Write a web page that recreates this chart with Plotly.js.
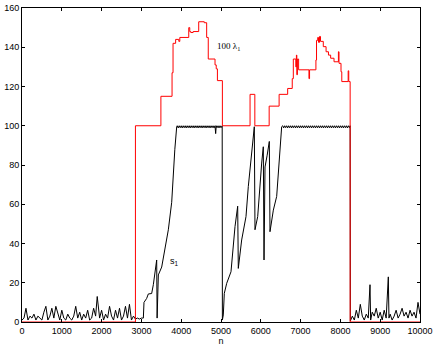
<!DOCTYPE html>
<html>
<head>
<meta charset="utf-8">
<script src="https://cdn.plot.ly/plotly-3.0.1.min.js"></script>
<style>
  html, body { margin: 0; padding: 0; background: #fff; }
  #chart { width: 436px; height: 346px; }
</style>
</head>
<body>
<div id="chart"></div>
<script>
// 100 lambda_1 (step curve)
const lamN = [0, 2850, 3490, 3770, 3795, 3860, 3940, 3965, 4190, 4215, 4240, 4300, 4440, 4580, 4640, 4680, 4850, 4880, 4910, 5035,
  5730, 5850, 6210, 6460, 6675, 6790, 6817, 6880, 6895, 6905, 6920, 6950, 7210, 7225, 7385, 7400, 7430, 7450, 7475, 7500,
  7570, 7640, 7700, 7755, 7840, 7950, 7965, 8015, 8035, 8195, 8210, 8245, 10000];
const lamY = [0, 100, 115, 127, 142, 144, 143, 145, 150, 148, 147.5, 148, 153, 152.5, 145, 134, 131, 129, 123, 100,
  116, 100, 110, 116, 119, 124, 134, 130, 136, 126, 134, 128.5, 124, 128.5, 133.5, 143.5, 145, 142.5, 145.5, 143,
  140.3, 137.7, 136, 134.4, 132.6, 137.7, 131.8, 127.5, 122.5, 128, 122.5, 0, 0];

// s_1, read in pieces
const nNoise1 = [0, 50, 100, 150, 200, 250, 300, 350, 400, 450, 500, 550, 600, 650, 700, 750, 800, 850, 900, 950,
  1000, 1050, 1100, 1150, 1200, 1250, 1300, 1350, 1400, 1450, 1500, 1550, 1600, 1650, 1700, 1750, 1800, 1850, 1890, 1950,
  2000, 2050, 2100, 2150, 2200, 2250, 2300, 2350, 2400, 2450, 2500, 2550, 2600, 2650, 2700, 2750, 2800];
const sNoise1 = [1, 2, 7, 1, 3, 2, 4, 1, 3, 2, 1, 5, 8, 1, 3, 7, 2, 8, 4, 1,
  6, 2, 1, 4, 2, 1, 3, 8, 2, 5, 1, 4, 2, 6, 1, 2, 7, 3, 13, 2,
  6, 1, 4, 2, 8, 3, 1, 6, 2, 7, 1, 3, 8, 2, 9, 1, 3];

const nRise1 = [2850, 2900, 2950, 3000, 3049, 3065, 3132, 3174, 3258, 3300, 3384, 3395, 3426, 3510, 3593, 3677, 3761, 3802, 3840, 3887];
const sRise1 = [1.5, 2, 1.5, 2, 2, 10, 12, 14.3, 14.5, 19, 31.6, 2, 24, 28, 37.5, 47, 61, 77, 88, 99.5];

const nFlat1 = [3900, 3925, 3950, 3975, 4000, 4025, 4050, 4075, 4100, 4125, 4150, 4175, 4200, 4225, 4250, 4275,
  4300, 4325, 4350, 4375, 4400, 4425, 4450, 4475, 4500, 4525, 4550, 4575, 4600, 4625, 4650, 4675,
  4700, 4725, 4750, 4775, 4800, 4825, 4850, 4866, 4880, 4900, 4925, 4950, 4975, 5000, 5030];
const sFlat1 = [100, 98.9, 100, 99, 100, 98.9, 100, 99, 100, 98.9, 100, 99, 100, 98.9, 100, 99,
  100, 98.9, 100, 99, 100, 98.9, 100, 99, 100, 98.9, 100, 99, 100, 98.9, 100, 99,
  100, 98.9, 100, 99, 100, 98.9, 100, 96, 100, 99, 100, 98.9, 100, 99, 100];

const nRise2 = [5035, 5058, 5083, 5143, 5251, 5309, 5352, 5419, 5435, 5519, 5628, 5686, 5770, 5837, 5854, 5922, 6022, 6063,
  6081, 6106, 6160, 6214, 6231, 6315, 6399, 6460, 6524];
const sRise2 = [1, 3.6, 14.6, 19.7, 25.6, 38.4, 48.6, 59, 27.3, 41.8, 53.7, 69, 86, 99.5, 47, 53.7, 81, 89.3,
  31.6, 79, 85, 92, 46, 57, 64, 80, 99.5];

const nFlat2 = [6550, 6575, 6600, 6625, 6650, 6675, 6700, 6725, 6750, 6775, 6800, 6825, 6850, 6875, 6900, 6925,
  6950, 6975, 7000, 7025, 7050, 7075, 7100, 7125, 7150, 7175, 7200, 7225, 7250, 7275, 7300, 7325,
  7350, 7375, 7400, 7425, 7450, 7475, 7500, 7525, 7550, 7575, 7600, 7625, 7650, 7675, 7700, 7725,
  7750, 7775, 7800, 7825, 7850, 7875, 7900, 7925, 7950, 7975, 8000, 8025, 8050, 8075, 8100, 8125,
  8150, 8175, 8200, 8225, 8245];
const sFlat2 = [100, 98.9, 100, 99, 100, 98.9, 100, 99, 100, 98.9, 100, 99, 100, 98.9, 100, 99,
  100, 98.9, 100, 99, 100, 98.9, 100, 99, 100, 98.9, 100, 99, 100, 98.9, 100, 99,
  100, 98.9, 100, 99, 100, 98.9, 100, 99, 100, 98.9, 100, 99, 100, 98.9, 100, 99,
  100, 98.9, 100, 99, 100, 98.9, 100, 99, 100, 98.9, 100, 99, 100, 98.9, 100, 99,
  100, 98.9, 100, 99, 100];

const nNoise2 = [8250, 8300, 8350, 8400, 8450, 8500, 8550, 8600, 8650, 8700, 8744, 8760, 8800, 8850, 8900, 8950, 9000,
  9050, 9100, 9150, 9204, 9220, 9250, 9300, 9350, 9400, 9450, 9500, 9550, 9600, 9650, 9700, 9750, 9800, 9850,
  9900, 9950, 10000];
const sNoise2 = [0.5, 3, 1, 6, 2, 9, 3, 1, 4, 2, 19, 1, 5, 3, 7, 2, 5,
  1, 6, 2, 23, 2, 4, 1, 3, 6, 2, 4, 7, 3, 5, 2, 6, 3, 5,
  2, 10, 4];

const sN = [].concat(nNoise1, nRise1, nFlat1, nRise2, nFlat2, nNoise2);
const sY = [].concat(sNoise1, sRise1, sFlat1, sRise2, sFlat2, sNoise2);

const tickFont = { family: "Liberation Sans, Arial, sans-serif", size: 9, color: "#000" };

const axisBase = {
  showgrid: false,
  zeroline: false,
  showline: true,
  linecolor: "#000",
  linewidth: 1,
  mirror: "ticks",
  ticks: "inside",
  ticklen: 3,
  tickcolor: "#000",
  tickwidth: 1,
  tickfont: tickFont
};

Plotly.newPlot("chart", [
  {
    x: sN, y: sY,
    type: "scatter", mode: "lines",
    line: { color: "#000", width: 1 },
    hoverinfo: "skip"
  },
  {
    x: lamN, y: lamY,
    type: "scatter", mode: "lines",
    line: { color: "#ff0000", width: 1, shape: "hv" },
    hoverinfo: "skip"
  }
], {
  width: 436,
  height: 346,
  margin: { l: 22, r: 16, t: 8, b: 24 },
  paper_bgcolor: "#fff",
  plot_bgcolor: "#fff",
  showlegend: false,
  xaxis: Object.assign({}, axisBase, {
    range: [0, 10000],
    dtick: 1000,
    tick0: 0,
    tickformat: "d",
    title: { text: "n", font: tickFont, standoff: 2 }
  }),
  yaxis: Object.assign({}, axisBase, {
    range: [0, 160],
    dtick: 20,
    tick0: 0
  }),
  annotations: [
    {
      x: 5176, y: 140.6, xref: "x", yref: "y",
      text: "100 λ<sub>1</sub>", showarrow: false,
      font: { family: "Liberation Serif, Times New Roman, serif", size: 9, color: "#000" }
    },
    {
      x: 3819, y: 31, xref: "x", yref: "y",
      text: "s<sub>1</sub>", showarrow: false,
      font: { family: "Liberation Sans, Arial, sans-serif", size: 9, color: "#000" }
    }
  ]
}, { staticPlot: true });
</script>
</body>
</html>
